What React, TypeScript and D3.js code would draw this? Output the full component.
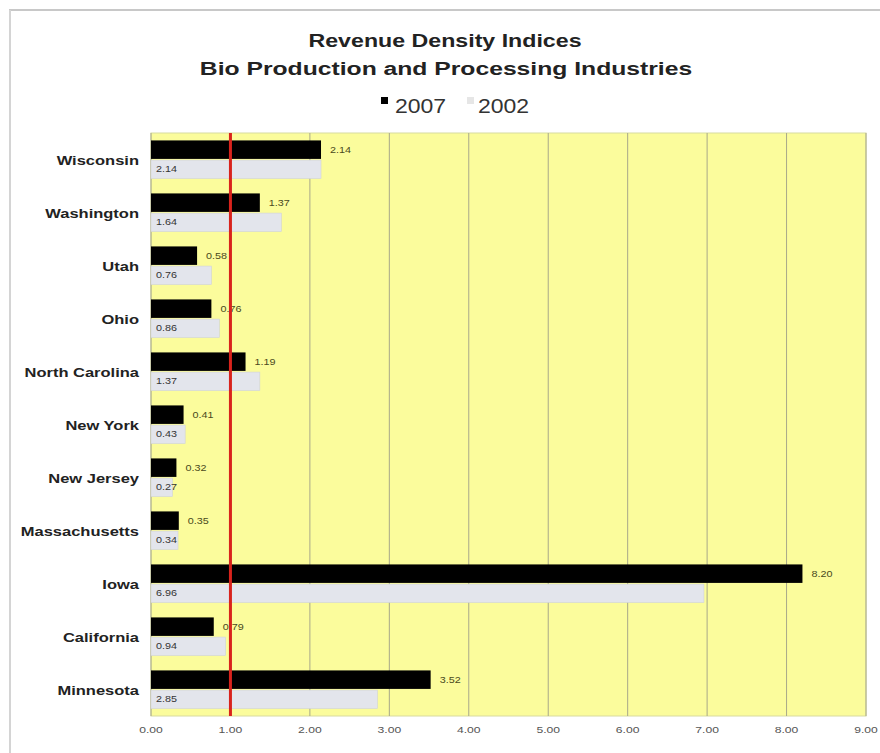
import React from "react";
import * as d3 from "d3";

const categories = ["Wisconsin", "Washington", "Utah", "Ohio", "North Carolina", "New York", "New Jersey", "Massachusetts", "Iowa", "California", "Minnesota"];
const values2007 = [2.14, 1.37, 0.58, 0.76, 1.19, 0.41, 0.32, 0.35, 8.2, 0.79, 3.52];
const values2002 = [2.14, 1.64, 0.76, 0.86, 1.37, 0.43, 0.27, 0.34, 6.96, 0.94, 2.85];
const seriesNames = ["2007", "2002"];
const xTicks = [0, 1, 2, 3, 4, 5, 6, 7, 8, 9];
const referenceValue = 1;

function SText({ x, y, sx = 1.3, children, ...rest }: any) {
  return (
    <text transform={`translate(${x},${y}) scale(${sx},1)`} {...rest}>{children}</text>
  );
}

export default function App() {
  const W = 880, H = 753;
  const left = 151, right = 866, top = 133, bottom = 716;
  const x = d3.scaleLinear().domain([0, 9]).range([left, right]);
  const y = d3.scaleBand<string>().domain(categories).range([top, bottom]).paddingInner(0.28).paddingOuter(0.14);
  const ys = d3.scaleBand<string>().domain(seriesNames).range([0, y.bandwidth()]).paddingInner(0.06);
  const font = "'Liberation Sans', Arial, Helvetica, sans-serif";
  const fmt = d3.format(".2f");
  return (
    <svg width={W} height={H} style={{ position: "absolute", left: 0, top: 0, background: "#fff" }} fontFamily={font}>
      <line x1={9} x2={W} y1={10} y2={10} stroke="#c8c8c8" strokeWidth={2} />
      <line x1={10} x2={10} y1={10} y2={H} stroke="#d4d4d4" strokeWidth={2} />
      <SText x={445} y={47} sx={1.22} textAnchor="middle" fontSize={19} fontWeight="bold" fill="#222">Revenue Density Indices</SText>
      <SText x={446} y={75} sx={1.3} textAnchor="middle" fontSize={19} fontWeight="bold" fill="#222">Bio Production and Processing Industries</SText>
      <rect x={381} y={97} width={7} height={7} fill="#000" />
      <SText x={395} y={113} sx={1.15} fontSize={20} fill="#333">2007</SText>
      <rect x={467} y={97} width={7} height={7} fill="#e6e6e6" />
      <SText x={478} y={113} sx={1.15} fontSize={20} fill="#333">2002</SText>
      <rect x={left} y={top} width={right - left} height={bottom - top} fill="#fbfc9c" stroke="#d8dba0" />
      {xTicks.map((t) => (
        <line key={"g" + t} x1={x(t)} x2={x(t)} y1={top} y2={bottom} stroke="#a8a88a" strokeWidth={1} />
      ))}
      {xTicks.map((t) => (
        <SText key={"t" + t} x={x(t)} y={733} sx={1.35} textAnchor="middle" fontSize={9} fill="#555">{fmt(t)}</SText>
      ))}
      {categories.map((c, i) => {
        const y0 = y(c)!;
        const yb = y0 + ys("2007")!;
        const yg = y0 + ys("2002")!;
        const h = ys.bandwidth();
        return (
          <g key={c}>
            <SText x={139} y={y0 + y.bandwidth() / 2 + 5} sx={1.32} textAnchor="end" fontSize={12.5} fontWeight="bold" fill="#222">{c}</SText>
            <rect x={x(0)} y={yb} width={x(values2007[i]) - x(0)} height={h} fill="#000" />
            <SText x={x(values2007[i]) + 9} y={yb + h / 2 + 3} sx={1.2} fontSize={9} fill="#4a4a20">{fmt(values2007[i])}</SText>
            <rect x={x(0)} y={yg} width={x(values2002[i]) - x(0)} height={h} fill="#e3e5ec" stroke="#d0d2d8" strokeWidth={0.6} />
            <SText x={x(0) + 5} y={yg + h / 2 + 3} sx={1.2} fontSize={9} fill="#333">{fmt(values2002[i])}</SText>
          </g>
        );
      })}
      <line x1={x(referenceValue)} x2={x(referenceValue)} y1={top} y2={bottom} stroke="#d8231c" strokeWidth={3} />
    </svg>
  );
}
